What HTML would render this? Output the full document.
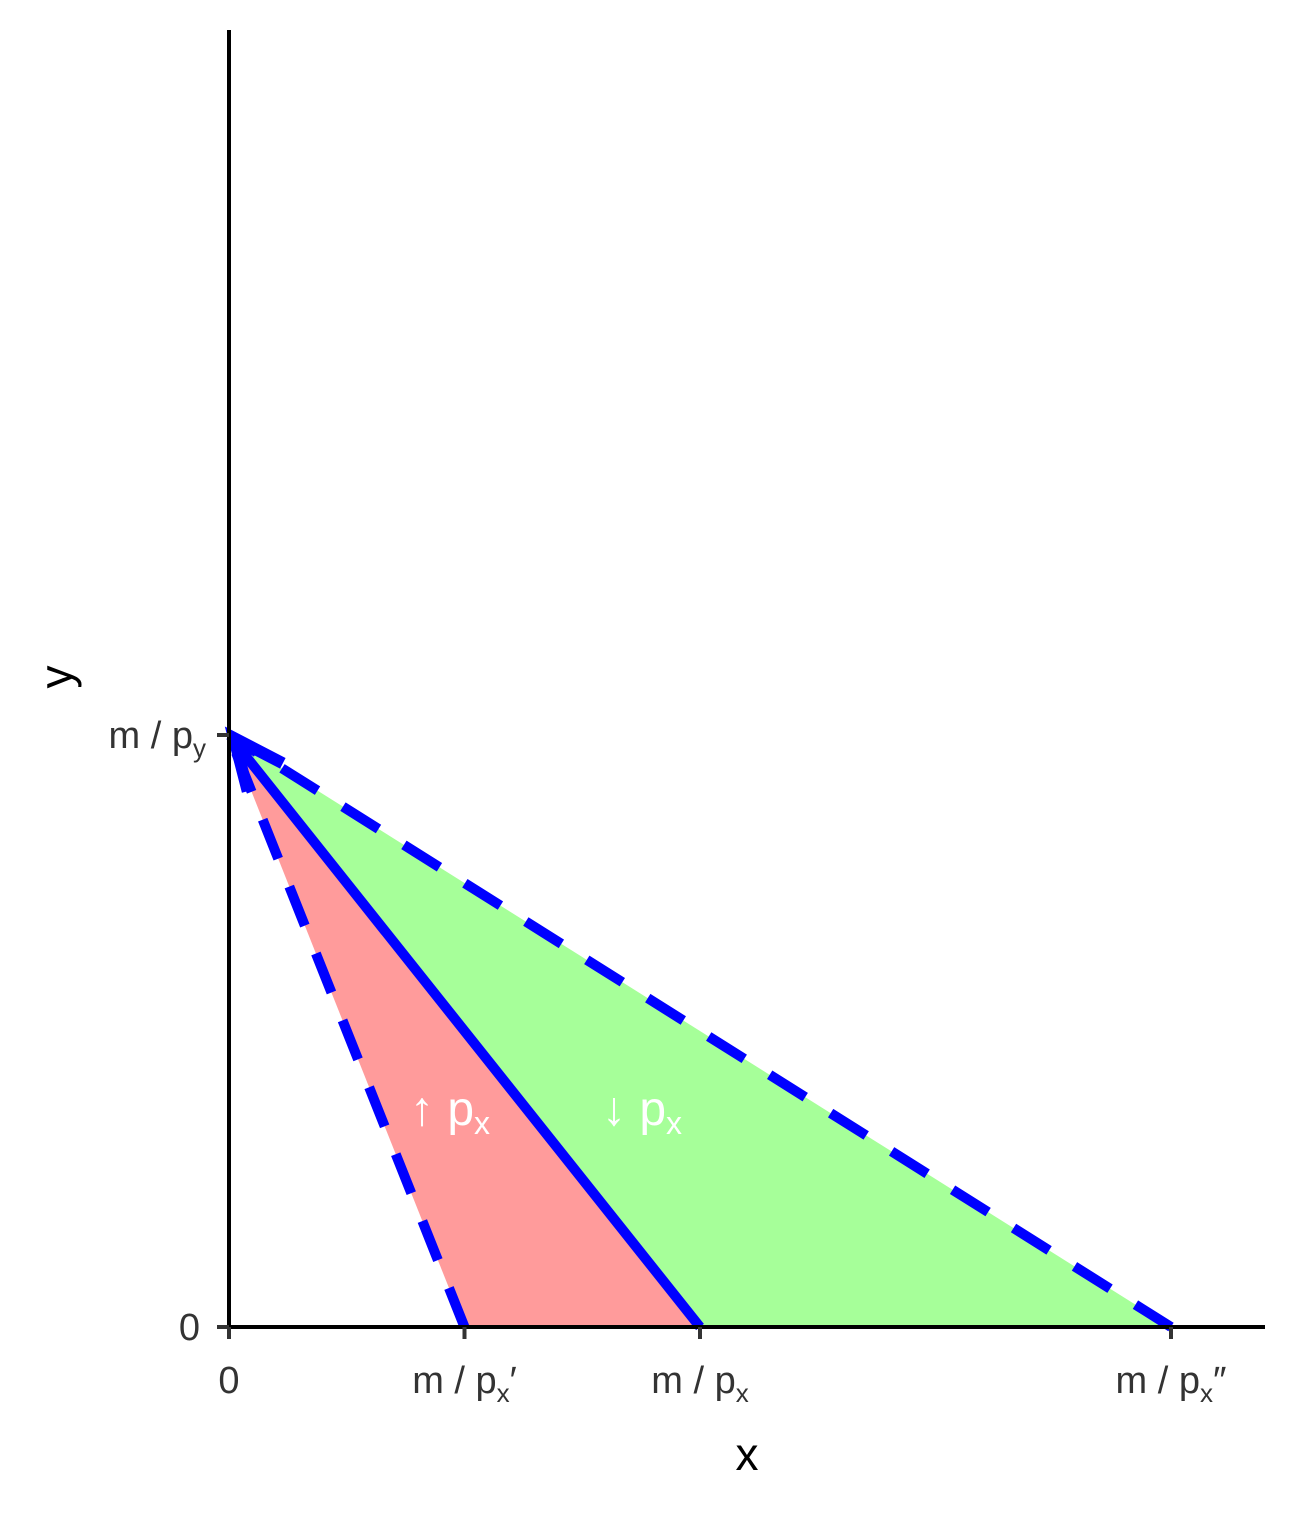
<!DOCTYPE html>
<html><head><meta charset="utf-8"><style>
body{margin:0;background:#fff}
svg text{font-family:"Liberation Sans",sans-serif}
</style></head><body>
<svg id="chart" width="1296" height="1512" viewBox="0 0 1296 1512" xmlns="http://www.w3.org/2000/svg">
<g id="regions"></g>
<g id="lines"></g>
<g id="axes"></g>
<g id="labels"></g>
</svg>
<script>
const xTickValues=[0,5,10,20];
const xTickLabels=["0","m / p<tspan font-size='26' dy='9'>x</tspan><tspan dy='-9'>′</tspan>","m / p<tspan font-size='26' dy='9'>x</tspan>","m / p<tspan font-size='26' dy='9'>x</tspan><tspan dy='-9'>″</tspan>"];
const yTickValues=[0,10];
const yTickLabels=["0","m / p<tspan font-size='26' dy='9'>y</tspan>"];
const yIntercept=[10];
const xIntercepts=[5,10,20];
const X=v=>229+v*47.1, Y=v=>1327-v*59.2;
const NS="http://www.w3.org/2000/svg";
function mk(tag,attrs,parent){const e=document.createElementNS(NS,tag);for(const k in attrs)e.setAttribute(k,attrs[k]);parent.appendChild(e);return e;}
const R=document.getElementById('regions'),L=document.getElementById('lines'),A=document.getElementById('axes'),T=document.getElementById('labels');
const yi=yIntercept[0];
let p=mk('polygon',{points:`${X(0)},${Y(yi)} ${X(xIntercepts[1])},${Y(0)} ${X(xIntercepts[2])},${Y(0)}`,fill:'#a6ff99'},R);

p=mk('polygon',{points:`${X(0)},${Y(yi)} ${X(xIntercepts[0])},${Y(0)} ${X(xIntercepts[1])},${Y(0)}`,fill:'#ff9b9b'},R);

[[0,'dashed-budget-line-steep'],[2,'dashed-budget-line-flat']].forEach(([i,n])=>{
 const l=mk('line',{x1:X(xIntercepts[i]),y1:Y(0),x2:X(0),y2:Y(yi),stroke:'#0000ff','stroke-width':10,'stroke-dasharray':'42,30'},L);
 
});
const sl=mk('line',{x1:X(xIntercepts[1]),y1:Y(0),x2:X(0)+4,y2:Y(yi)+5,stroke:'#0000ff','stroke-width':10},L);

// arrowhead
const ax=X(0),ay=Y(yi),dx=X(0)-X(xIntercepts[1]),dy=Y(yi)-Y(0),len=Math.hypot(dx,dy),ux=dx/len,uy=dy/len,al=55,ang=0.42;
function rot(a){return [-(ux*Math.cos(a)-uy*Math.sin(a)),-(ux*Math.sin(a)+uy*Math.cos(a))];}
const [r1x,r1y]=rot(ang),[r2x,r2y]=rot(-ang);
const ah=mk('polyline',{points:`${ax+5+r1x*al},${ay+3+r1y*al} ${ax+5},${ay+3} ${ax+5+r2x*al},${ay+3+r2y*al}`,fill:'none',stroke:'#0000ff','stroke-width':12,'stroke-linejoin':'miter','stroke-linecap':'butt'},L);

let e=mk('line',{x1:229,y1:30,x2:229,y2:1328,stroke:'#000','stroke-width':4},A);

e=mk('line',{x1:227,y1:1327,x2:1265,y2:1327,stroke:'#000','stroke-width':4},A);

xTickValues.forEach((v,i)=>{
 const t=mk('line',{x1:X(v),y1:1327,x2:X(v),y2:1339,stroke:'#333','stroke-width':4},A);
 
 const tx=mk('text',{x:X(v),y:1393,'text-anchor':'middle','font-size':38,fill:'#333'},T);
 tx.innerHTML=xTickLabels[i];
 
});
yTickValues.forEach((v,i)=>{
 const t=mk('line',{x1:217,y1:Y(v),x2:229,y2:Y(v),stroke:'#333','stroke-width':4},A);
 
 const tx=mk('text',{x:i?206:200,y:Y(v)+13,'text-anchor':'end','font-size':38,fill:'#333'},T);
 tx.innerHTML=yTickLabels[i];
 
});
e=mk('text',{x:747,y:1470,'text-anchor':'middle','font-size':46,fill:'#000'},T);e.textContent='x';

e=mk('text',{x:0,y:0,'text-anchor':'middle','font-size':46,fill:'#000',transform:'translate(72,677) rotate(-90)'},T);e.textContent='y';

e=mk('text',{x:410,y:1125,'font-size':48,fill:'#fff'},T);e.innerHTML="↑ p<tspan font-size='32' dy='9'>x</tspan>";

e=mk('text',{x:602,y:1125,'font-size':48,fill:'#fff'},T);e.innerHTML="↓ p<tspan font-size='32' dy='9'>x</tspan>";

</script>
</body></html>
